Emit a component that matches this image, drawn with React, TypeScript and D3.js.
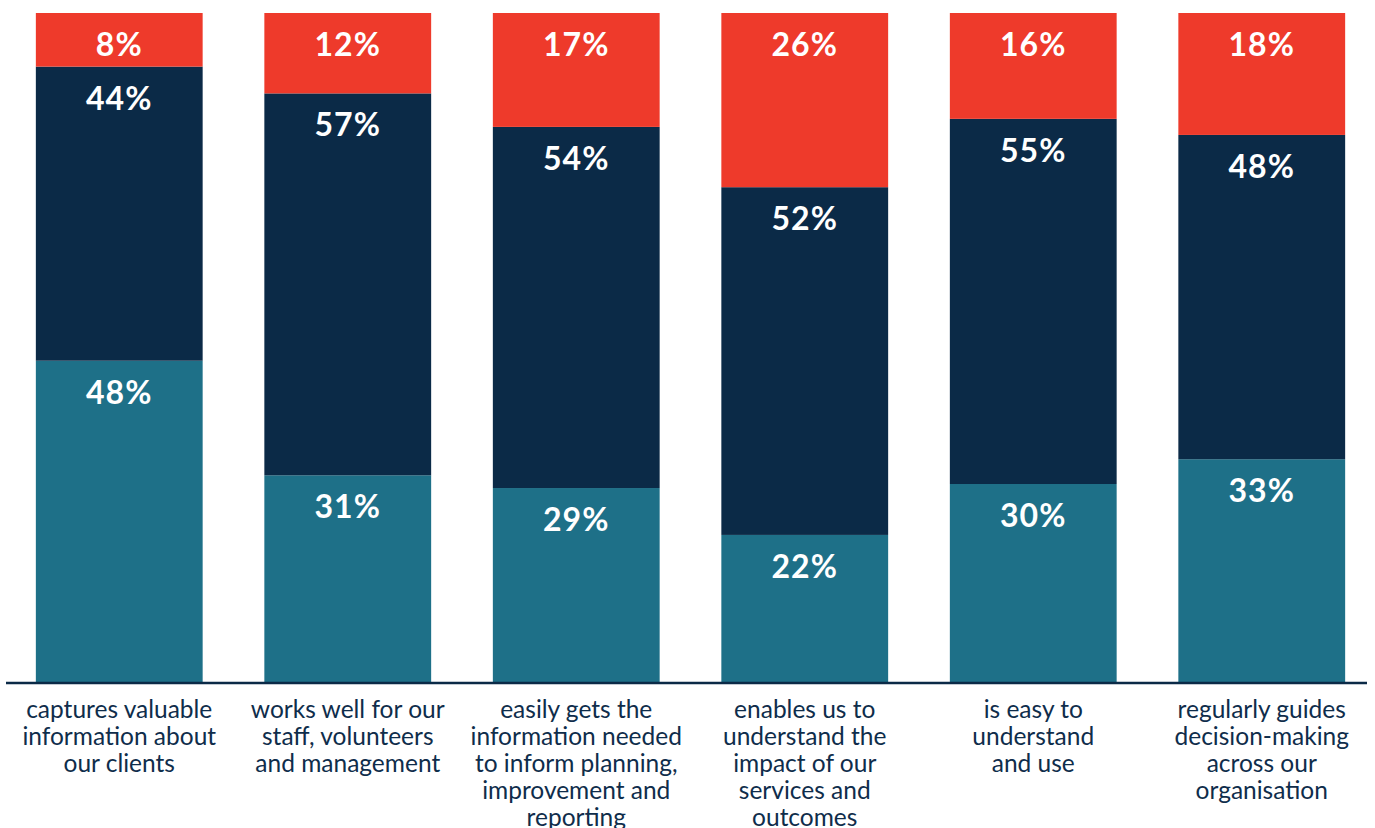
import React from "react";
import * as d3 from "d3";

const categories: string[][] = [
  ["captures valuable", "information about", "our clients"],
  ["works well for our", "staff, volunteers", "and management"],
  ["easily gets the", "information needed", "to inform planning,", "improvement and", "reporting"],
  ["enables us to", "understand the", "impact of our", "services and", "outcomes"],
  ["is easy to", "understand", "and use"],
  ["regularly guides", "decision-making", "across our", "organisation"],
];
const seriesKeys = ["bottom", "middle", "top"];
const bottomValues = [48.1, 31.0, 29.1, 22.1, 29.7, 33.4];
const middleValues = [43.9, 57.0, 53.9, 51.9, 54.5, 48.4];
const topValues = [8.0, 12.0, 17.0, 26.0, 15.8, 18.2];
const colors = ["#1e7088", "#0b2a47", "#ee3a2b"];

const W = 1375;
const H = 828;

export default function App() {
  const rows = categories.map((c, i) => ({
    idx: i,
    bottom: bottomValues[i],
    middle: middleValues[i],
    top: topValues[i],
  }));
  const stack = d3.stack<any>().keys(seriesKeys);
  const series = stack(rows);
  const x = d3
    .scaleBand<number>()
    .domain(rows.map((r) => r.idx))
    .range([5, 1376])
    .paddingInner(0.27)
    .paddingOuter(0.135);
  const y = d3.scaleLinear().domain([0, 100]).range([683, 13]);

  return (
    <svg
      width={W}
      height={H}
      style={{ position: "absolute", left: 0, top: 0 }}
      fontFamily="Lato, 'Open Sans', sans-serif"
    >
      {series.map((s, si) => (
        <g key={si} fill={colors[si]}>
          {s.map((d, i) => (
            <rect
              key={i}
              x={x(i)}
              width={x.bandwidth()}
              y={y(d[1])}
              height={y(d[0]) - y(d[1])}
            />
          ))}
        </g>
      ))}
      {series.map((s, si) =>
        s.map((d, i) => (
          <text
            key={`l${si}-${i}`}
            x={(x(i) as number) + x.bandwidth() / 2}
            y={y(d[1]) + 43}
            textAnchor="middle"
            fill="#ffffff"
            fontWeight={700}
            fontSize={32}
            letterSpacing={1}
          >
            {Math.round(d[1] - d[0])}%
          </text>
        ))
      )}
      <line x1={6} x2={1367} y1={683} y2={683} stroke="#0b2a47" strokeWidth={2.5} />
      {categories.map((lines, i) => (
        <text
          key={`c${i}`}
          textAnchor="middle"
          fill="#0f2d4b"
          fontSize={24.5}
          x={(x(i) as number) + x.bandwidth() / 2}
        >
          {lines.map((ln, j) => (
            <tspan key={j} x={(x(i) as number) + x.bandwidth() / 2} y={718 + j * 27}>
              {ln}
            </tspan>
          ))}
        </text>
      ))}
    </svg>
  );
}
